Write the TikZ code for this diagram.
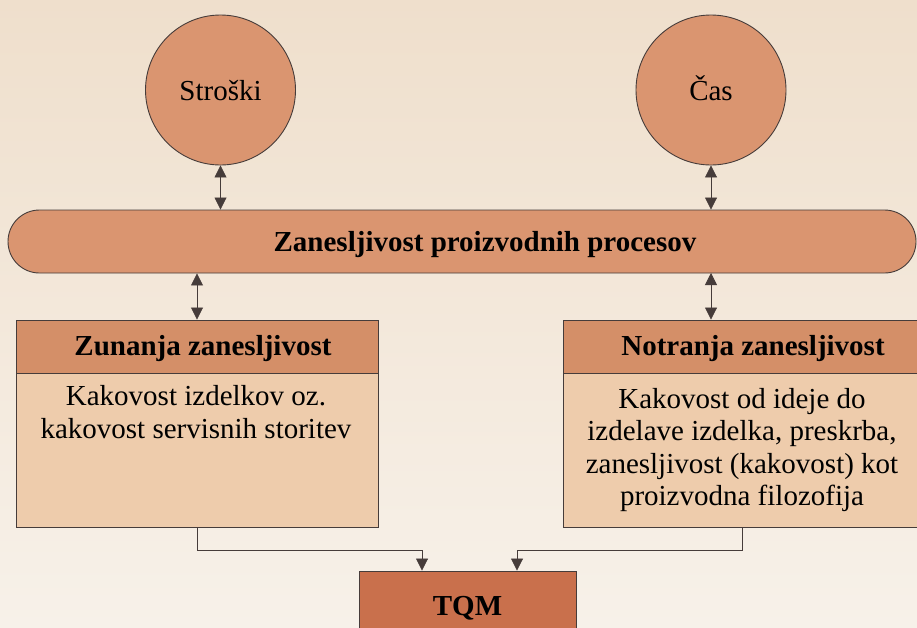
\documentclass[tikz,border=0pt]{standalone}
\usepackage{fontspec}
\setmainfont{Liberation Serif}
\usetikzlibrary{arrows.meta}
\definecolor{bgtop}{RGB}{239,223,204}
\definecolor{bgbot}{RGB}{247,241,233}
\definecolor{salmon}{RGB}{218,149,112}
\definecolor{headfill}{RGB}{212,143,104}
\definecolor{bodyfill}{RGB}{238,204,172}
\definecolor{tqmfill}{RGB}{201,112,76}
\definecolor{edge}{RGB}{70,60,58}
\tikzset{
  shapeline/.style={draw=edge, line width=0.9pt},
  bigcircle/.style={shapeline, circle, fill=salmon, minimum size=150pt, inner sep=0pt,
    text height=20pt, text depth=0pt, font=\fontsize{29}{33}\selectfont},
  headbox/.style={shapeline, rectangle, fill=headfill, inner sep=0pt,
    text height=18pt, text depth=0pt, font=\fontsize{29}{33}\selectfont\bfseries},
  bodybox/.style={shapeline, rectangle, fill=bodyfill, inner sep=0pt},
  bodytext/.style={align=center, inner sep=0pt, font=\fontsize{29}{32.5}\selectfont},
  conn/.style={draw=edge, line width=0.8pt, >={Triangle[length=12pt,width=12pt]}},
}
\begin{document}
\begin{tikzpicture}[x=1pt,y=-1pt]
\useasboundingbox (0,0) rectangle (917,627);
\clip (0,0) rectangle (917,627);
\shade[top color=bgtop, bottom color=bgbot] (0,0) rectangle (917,627);

% circles
\node[bigcircle] (stroski) at (220.5,90) {Stroški};
\node[bigcircle] (cas) at (711,90) {Čas};

% bar
\node[shapeline, fill=salmon, rectangle, rounded corners=31.5pt,
  minimum width=908pt, minimum height=63pt, inner sep=0pt,
  text height=20pt, text depth=0pt,
  font=\fontsize{29}{33}\selectfont\bfseries] (bar) at (462,241.5)
  {\hspace*{46pt}Zanesljivost proizvodnih procesov};

% left box
\node[headbox, minimum width=362pt, minimum height=53pt] (lhead) at (197,346.5)
  {\hspace*{12pt}Zunanja zanesljivost};
\node[bodybox, minimum width=362pt, minimum height=154pt] (lbody) at (197,450) {};
\node[bodytext, anchor=north] (ltext) at (196,385.5)
  {Kakovost izdelkov oz.\\kakovost servisnih storitev};

% right box
\node[headbox, minimum width=358pt, minimum height=53pt] (rhead) at (742,346.5)
  {\hspace*{22pt}Notranja zanesljivost};
\node[bodybox, minimum width=358pt, minimum height=154pt] (rbody) at (742,450) {};
\node[bodytext, anchor=north] (rtext) at (742,388)
  {Kakovost od ideje do\\izdelave izdelka, preskrba,\\zanesljivost (kakovost) kot\\proizvodna filozofija};

% TQM
\node[shapeline, rectangle, fill=tqmfill, minimum width=217pt, minimum height=69pt,
  inner sep=0pt, text height=19pt, text depth=0pt,
  font=\fontsize{29}{33}\selectfont\bfseries] (tqm) at (467.5,605.5) {TQM};

% connectors
\draw[conn, <->] (stroski.south) -- (stroski.south |- bar.north);
\draw[conn, <->] (cas.south) -- (cas.south |- bar.north);
\draw[conn, <->] (lhead.north |- bar.south) -- (lhead.north);
\draw[conn, <->] (711,273) coordinate (rtop) -- (rtop |- rhead.north);
\coordinate (lturn) at (0,550);
\draw[conn, ->] (lbody.south) -- (lbody.south |- lturn) -| ([xshift=-45.5pt]tqm.north);
\draw[conn, ->] (rbody.south) -- (rbody.south |- lturn) -| ([xshift=49.5pt]tqm.north);
\end{tikzpicture}
\end{document}
